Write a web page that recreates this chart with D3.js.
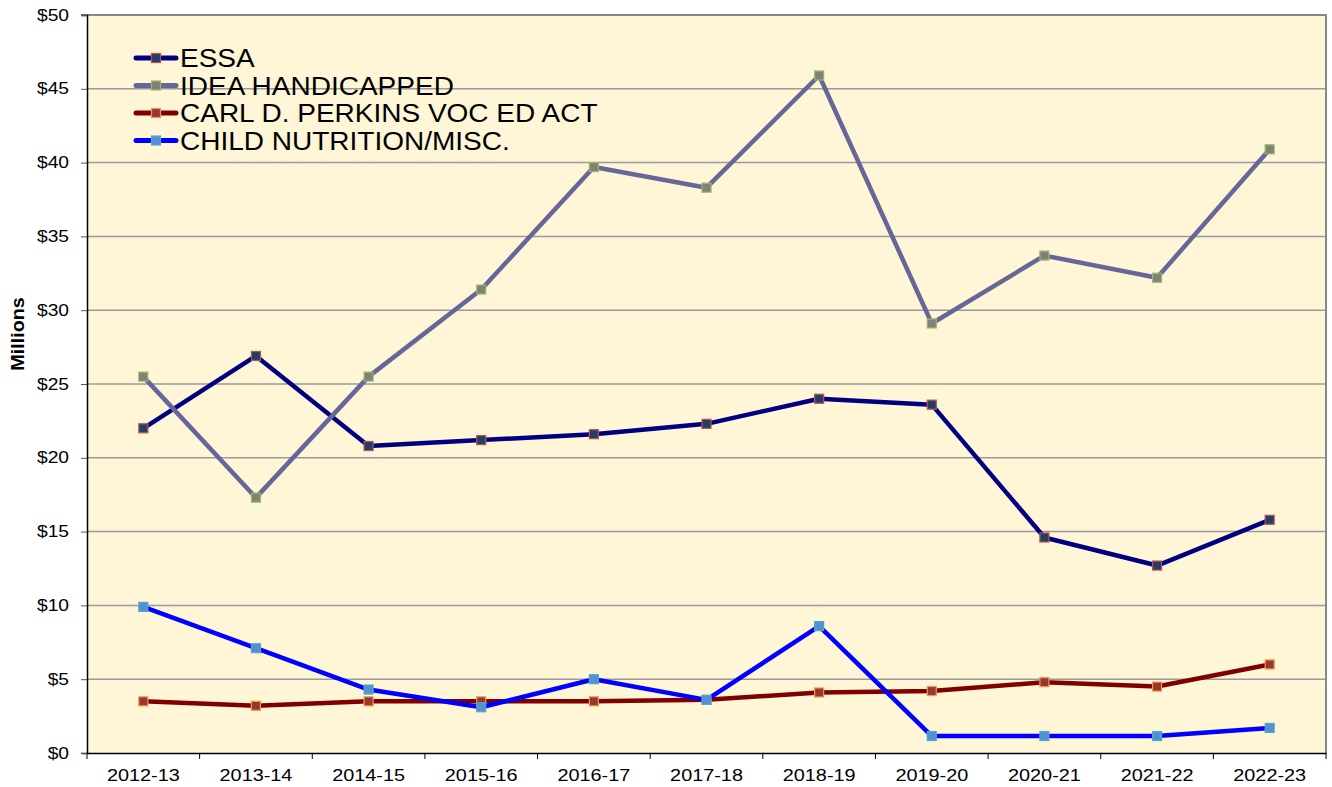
<!DOCTYPE html>
<html>
<head>
<meta charset="utf-8">
<script src="https://cdn.jsdelivr.net/npm/d3@7"></script>
<style>
  body { margin: 0; background: #fff; }
  text { font-family: "Liberation Sans", Arial, sans-serif; }
</style>
</head>
<body>
<div id="mainDiv"></div>
<script>
// categories (school years)
const years = ["2012-13", "2013-14", "2014-15", "2015-16", "2016-17", "2017-18",
               "2018-19", "2019-20", "2020-21", "2021-22", "2022-23"];

// series values, millions of dollars
const essa    = [22.0, 26.9, 20.8, 21.2, 21.6, 22.3, 24.0, 23.6, 14.6, 12.7, 15.8];
const idea    = [25.5, 17.3, 25.5, 31.4, 39.7, 38.3, 45.9, 29.1, 33.7, 32.2, 40.9];
const perkins = [3.5, 3.2, 3.5, 3.5, 3.5, 3.6, 4.1, 4.2, 4.8, 4.5, 6.0];
const child   = [9.9, 7.1, 4.3, 3.1, 5.0, 3.6, 8.6, 1.15, 1.15, 1.15, 1.7];

const yTicks = [0, 5, 10, 15, 20, 25, 30, 35, 40, 45, 50];

const series = [
  { name: "ESSA", values: essa, line: "#000080", fill: "#1f3f66", stroke: "#c0504d" },
  { name: "IDEA HANDICAPPED", values: idea, line: "#666699", fill: "#808080", stroke: "#9bbb59" },
  { name: "CARL D. PERKINS VOC ED ACT", values: perkins, line: "#800000", fill: "#953735", stroke: "#f79646" },
  { name: "CHILD NUTRITION/MISC.", values: child, line: "#0000ff", fill: "#558ed5", stroke: "#4bacc6" }
];

let margin = { top: 15, right: 6, bottom: 34, left: 87 },
    width  = 1332 - margin.left - margin.right,
    height = 787 - margin.top - margin.bottom;

// the original text is drawn a bit wider than the font, stretch it
function stretch(sel, k) {
  sel.each(function() {
    let w = this.getComputedTextLength();
    d3.select(this).attr("textLength", w * k).attr("lengthAdjust", "spacingAndGlyphs");
  });
}

let svg = d3.select("#mainDiv").append("svg")
              .attr("width", 1332)
              .attr("height", 787),
    g   = svg.append("g")
              .attr("transform", "translate(" + margin.left + "," + margin.top + ")");

let x = d3.scaleBand().domain(years).range([0, width]);
let y = d3.scaleLinear().domain([0, 50]).range([height, 0]);

// plot background
g.append("rect")
  .attr("width", width)
  .attr("height", height)
  .attr("fill", "#fff5d7");

// gridlines
g.selectAll(".grid")
    .data(yTicks.slice(1, -1))
  .enter().append("line")
    .attr("x1", 0).attr("x2", width)
    .attr("y1", d => y(d)).attr("y2", d => y(d))
    .attr("stroke", "#9a9a9a")
    .attr("stroke-width", 1.5);

// top and right border
g.append("path")
  .attr("d", "M-6," + y(50) + "H" + width + "V" + height)
  .attr("fill", "none")
  .attr("stroke", "#888")
  .attr("stroke-width", 2);

// y axis
let yAxis = g.append("g")
  .call(d3.axisLeft(y).tickValues(yTicks).tickSize(6).tickPadding(12)
        .tickFormat(d => "$" + d));
yAxis.select(".domain").attr("stroke", "#000").attr("stroke-width", 1.5);
yAxis.selectAll(".tick line").attr("stroke", "#555");
yAxis.selectAll("text").attr("font-size", 16).attr("fill", "#000")
  .attr("font-family", "Liberation Sans, Arial, sans-serif")
  .call(stretch, 1.2);

// x axis
let xAxis = g.append("g")
  .attr("transform", "translate(0," + height + ")")
  .call(d3.axisBottom(x).tickSize(0).tickPadding(17));
xAxis.select(".domain").attr("stroke", "#000").attr("stroke-width", 1.5);
xAxis.selectAll("text").attr("font-size", 16).attr("fill", "#000")
  .attr("font-family", "Liberation Sans, Arial, sans-serif")
  .call(stretch, 1.24);

// x tick marks at band boundaries
g.selectAll(".xtick")
    .data(years.concat(["end"]))
  .enter().append("line")
    .attr("x1", (d, i) => i * x.bandwidth())
    .attr("x2", (d, i) => i * x.bandwidth())
    .attr("y1", height).attr("y2", height + 6)
    .attr("stroke", "#000");

// y axis title
svg.append("text")
  .attr("transform", "translate(24,334) rotate(-90)")
  .attr("text-anchor", "middle")
  .attr("font-size", 18)
  .attr("font-weight", "bold")
  .text("Millions")
  .call(stretch, 1.1);

// lines and markers
let line = d3.line()
  .x((d, i) => x(years[i]) + x.bandwidth() / 2)
  .y(d => y(d));

series.forEach(function(s) {
  g.append("path")
    .attr("d", line(s.values))
    .attr("fill", "none")
    .attr("stroke", s.line)
    .attr("stroke-width", 4.5)
    .attr("stroke-linejoin", "round");

  g.selectAll(null)
      .data(s.values)
    .enter().append("rect")
      .attr("x", (d, i) => x(years[i]) + x.bandwidth() / 2 - 4.5)
      .attr("y", d => y(d) - 4.5)
      .attr("width", 9)
      .attr("height", 9)
      .attr("fill", s.fill)
      .attr("stroke", s.stroke)
      .attr("stroke-width", 1.2);
});

// legend
let legend = svg.append("g").attr("transform", "translate(136,58)");
let item = legend.selectAll(".item")
    .data(series)
  .enter().append("g")
    .attr("transform", (d, i) => "translate(0," + i * 27.5 + ")");

item.append("line")
  .attr("x1", 0).attr("x2", 40)
  .attr("stroke", d => d.line)
  .attr("stroke-width", 5)
  .attr("stroke-linecap", "round");

item.append("rect")
  .attr("x", 15.5).attr("y", -4.5)
  .attr("width", 9).attr("height", 9)
  .attr("fill", d => d.fill)
  .attr("stroke", d => d.stroke)
  .attr("stroke-width", 1.2);

item.append("text")
  .attr("x", 44)
  .attr("y", 9)
  .attr("font-size", 25)
  .text(d => d.name)
  .call(stretch, 1.12);
</script>
</body>
</html>
